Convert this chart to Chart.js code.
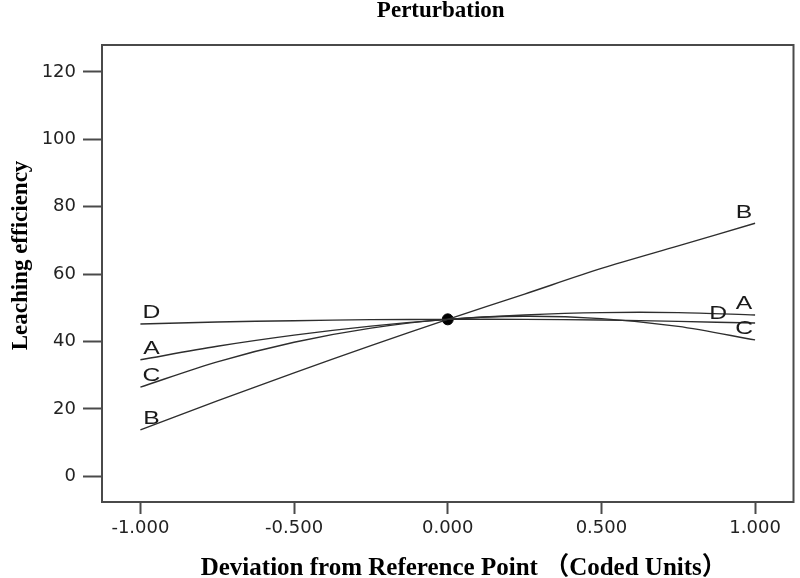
<!DOCTYPE html>
<html>
<head>
<meta charset="utf-8">
<script src="https://cdn.jsdelivr.net/npm/chart.js@4.4.1/dist/chart.umd.min.js"></script>
<style>
  html, body { margin: 0; padding: 0; background: #ffffff; }
  #wrap { width: 800px; height: 578px; position: relative; }
</style>
</head>
<body>
<div id="wrap"><canvas id="c" width="800" height="578"></canvas></div>
<script>
// ---- data ----
const chartTitle = 'Perturbation';
const xAxisTitle = 'Deviation from Reference Point （Coded Units）';
const yAxisTitle = 'Leaching efficiency';
const xValues = [-1, -0.75, -0.5, -0.25, 0, 0.25, 0.5, 0.75, 1];
const seriesNames = ['A', 'B', 'C', 'D'];
const seriesA = [34.6, 38.6, 41.9, 44.6, 46.6, 47.9, 48.6, 48.6, 47.9];
const seriesB = [13.8, 22.4, 30.7, 38.8, 46.6, 54.1, 61.7, 68.4, 75.1];
const seriesC = [26.5, 34.0, 39.8, 44.0, 46.6, 47.5, 46.8, 44.5, 40.5];
const seriesD = [45.2, 45.8, 46.2, 46.5, 46.6, 46.6, 46.4, 46.0, 45.5];
const referencePoint = { x: 0, y: 46.6 };
const xTickValues = [-1, -0.5, 0, 0.5, 1];
const yTickValues = [0, 20, 40, 60, 80, 100, 120];

const seriesValues = [seriesA, seriesB, seriesC, seriesD];

const lineColor = '#2e2e2e';
const axisColor = '#4a4a4a';

const datasets = seriesNames.map((name, i) => ({
  label: name,
  data: xValues.map((x, j) => ({ x: x, y: seriesValues[i][j] })),
  borderColor: lineColor,
  borderWidth: 1.4,
  pointRadius: 0,
  tension: 0.3,
  fill: false
}));
datasets.push({
  label: 'Reference',
  data: [referencePoint],
  showLine: false,
  pointRadius: 5.5,
  pointBackgroundColor: '#000',
  pointBorderColor: '#000',
  borderColor: '#000'
});

// frame around the plot area
const framePlugin = {
  id: 'frame',
  afterDraw(chart) {
    const { ctx, chartArea: a } = chart;
    ctx.save();
    ctx.strokeStyle = axisColor;
    ctx.lineWidth = 2;
    ctx.strokeRect(a.left, a.top, a.right - a.left, a.bottom - a.top);
    ctx.restore();
  }
};

// curve letters at the ends of each line
const curveLabelPlugin = {
  id: 'curveLabels',
  afterDatasetsDraw(chart, args, opts) {
    const ctx = chart.ctx;
    const xs = chart.scales.x, ys = chart.scales.y;
    const draw = (t, x, y) => {
      ctx.save();
      ctx.translate(x, y);
      ctx.scale(opts.stretch, 1);
      ctx.fillText(t, 0, 0);
      ctx.restore();
    };
    ctx.save();
    ctx.font = '19px "Liberation Sans", Arial';
    ctx.fillStyle = '#1a1a1a';
    ctx.textAlign = 'center';
    ctx.textBaseline = 'middle';
    seriesNames.forEach((name, i) => {
      const vals = seriesValues[i];
      const n = vals.length - 1;
      const xl = xs.getPixelForValue(xValues[0]) + opts.dx;
      const yl = ys.getPixelForValue(vals[0]) - opts.dy;
      const xr = xs.getPixelForValue(xValues[n]) - opts.dx - (opts.rightShift[name] || 0);
      const yr = ys.getPixelForValue(vals[n]) - opts.dy + (opts.rightLift[name] || 0);
      draw(name, xl, yl);
      draw(name, xr, yr);
    });
    ctx.restore();
  }
};

// chart and axis titles
const titlePlugin = {
  id: 'titles',
  afterDraw(chart) {
    const { ctx, chartArea: a } = chart;
    ctx.save();
    ctx.fillStyle = '#000';
    ctx.textAlign = 'center';
    ctx.textBaseline = 'alphabetic';
    ctx.font = 'bold 23px "Liberation Serif", "Noto Sans CJK SC"';
    ctx.fillText(chartTitle, (a.left + a.right) / 2 - 7, 17);
    ctx.font = 'bold 25px "Liberation Serif", "Noto Sans CJK SC"';
    ctx.fillText(xAxisTitle, (a.left + a.right) / 2 + 16, 575);
    ctx.translate(27, (a.top + a.bottom) / 2 - 18);
    ctx.rotate(-Math.PI / 2);
    ctx.font = 'bold 23px "Liberation Serif"';
    ctx.fillText(yAxisTitle, 0, 0);
    ctx.restore();
  }
};

new Chart(document.getElementById('c'), {
  type: 'line',
  data: { datasets: datasets },
  options: {
    responsive: false,
    animation: false,
    devicePixelRatio: 1,
    layout: { padding: { top: 45, right: 3, left: 0, bottom: 0 } },
    plugins: {
      legend: { display: false },
      title: { display: false },
      tooltip: { enabled: false },
      curveLabels: { dx: 11, dy: 11, stretch: 1.3, rightShift: { D: 26 }, rightLift: { D: 2 } }
    },
    scales: {
      x: {
        type: 'linear',
        min: -1.125,
        max: 1.125,
        afterFit(scale) { scale.height = 76; },
        afterBuildTicks(scale) { scale.ticks = xTickValues.map(v => ({ value: v })); },
        grid: {
          drawOnChartArea: false,
          drawTicks: true,
          tickLength: 12,
          tickWidth: 2,
          tickColor: axisColor
        },
        border: { display: false },
        ticks: {
          padding: 4,
          maxRotation: 0,
          autoSkip: false,
          color: '#222',
          font: { family: '"DejaVu Sans"', size: 18 },
          callback: v => Number(v).toFixed(3)
        }
      },
      y: {
        type: 'linear',
        min: -7.6,
        max: 128,
        afterFit(scale) { scale.width = 102; },
        afterBuildTicks(scale) { scale.ticks = yTickValues.map(v => ({ value: v })); },
        grid: {
          drawOnChartArea: false,
          drawTicks: true,
          tickLength: 19,
          tickWidth: 2,
          tickColor: axisColor
        },
        border: { display: false },
        ticks: {
          padding: 7,
          autoSkip: false,
          color: '#222',
          font: { family: '"DejaVu Sans"', size: 18 },
          callback: v => String(v)
        }
      }
    }
  },
  plugins: [framePlugin, curveLabelPlugin, titlePlugin]
});
</script>
</body>
</html>
